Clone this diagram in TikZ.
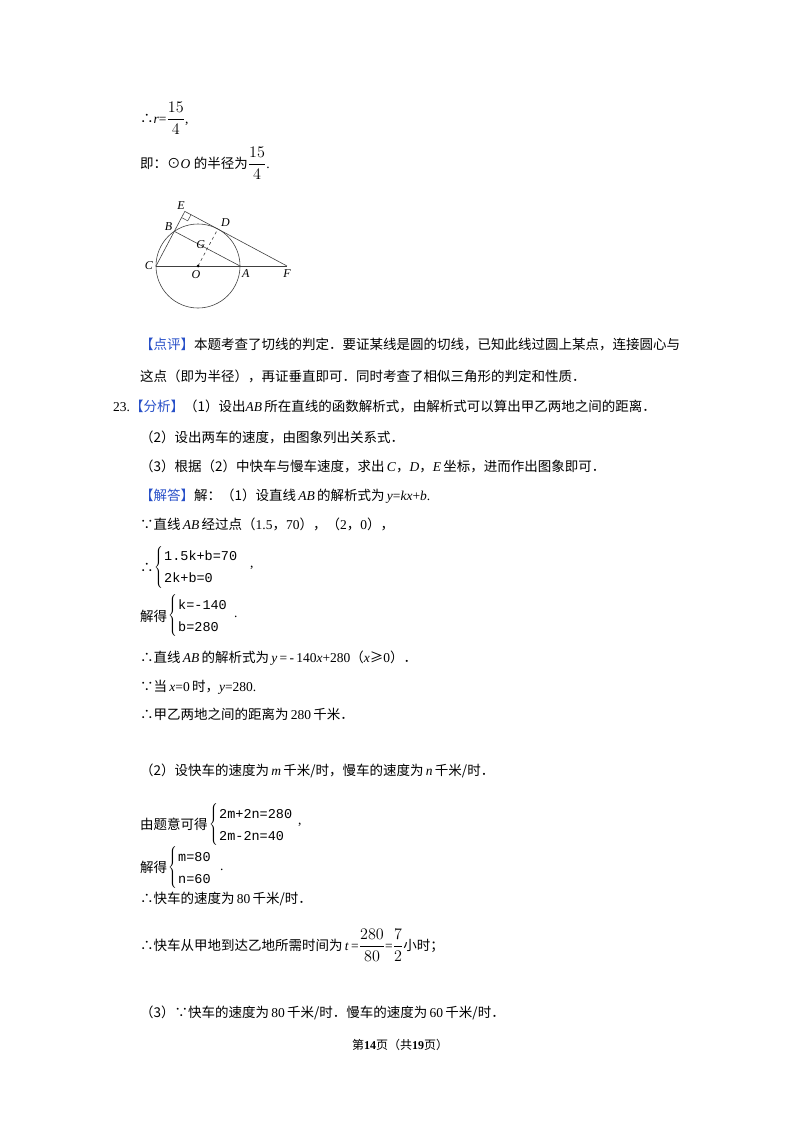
\documentclass[tikz,border=0pt]{standalone}
\usepackage{amsmath}
\usepackage{graphicx}
\usepackage{fontspec}
\setmainfont{Liberation Serif}
\newfontfamily\cjk{Noto Sans CJK SC}
\newfontfamily\eqf{Liberation Mono}
\usetikzlibrary{calc}
\definecolor{tagblue}{RGB}{40,80,200}
\begin{document}
\begin{tikzpicture}[x=1pt,y=-1pt,
  txt/.style={anchor=base west,inner sep=0pt,font=\fontsize{13.5}{16}\selectfont},
  eq/.style={anchor=base west,inner sep=0pt,font=\fontsize{13.5}{16}\eqf},
  brace/.style={anchor=west,inner sep=0pt},
  lbl/.style={font=\fontsize{12}{14}\selectfont\itshape,inner sep=1pt},
  fig/.style={line width=0.6pt,draw=black!75}]
\useasboundingbox (0,0) rectangle (800,1132);
\newcommand{\C}[1]{{\cjk #1}}
\newcommand{\tg}[1]{{\cjk\color{tagblue}【#1】}}
\newcommand{\fr}[2]{\scalebox{1.12}{$\dfrac{#1}{#2}$}}
\newcommand{\bigbrace}{$\left\{\rule{0pt}{18pt}\rule[-18pt]{0pt}{18pt}\right.$}
% top
\node[txt] (t1) at (140,123) {\C{∴}\textit{r}=\fr{15}{4},};
\node[txt] (t2) at (140,168) {\C{即：⊙}\textit{O} \C{的半径为}\fr{15}{4}.};
% figure
\coordinate (O) at (198,266);
\coordinate (C) at (156,266);
\coordinate (A) at (240,266);
\coordinate (F) at (287,266);
\coordinate (B) at ($(O)+(-23.7,-34.7)$);
\coordinate (D) at ($(O)+(19.8,-37)$);
\coordinate (E) at (intersection of C--B and F--D);
\coordinate (G) at (intersection of O--D and B--A);
\draw[fig] (O) circle (42);
\draw[fig] (C) -- (F);
\draw[fig] (C) -- (E) -- (F);
\draw[fig] (B) -- (A);
\draw[fig,dashed] (O) -- (D);
\fill (O) circle (1.5);
\coordinate (R1) at ($(E)!7pt!(B)$);
\coordinate (R2) at ($(E)!7pt!(D)$);
\draw[fig,line width=0.5pt] (R1) -- ($(R1)+(R2)-(E)$) -- (R2);
\node[lbl,anchor=south east] (lE) at ($(E)+(1,-1)$) {E};
\node[lbl,anchor=south east] (lB) at ($(B)+(-1,0)$) {B};
\node[lbl,anchor=south west] (lD) at ($(D)+(2,-1)$) {D};
\node[lbl,anchor=south east] (lG) at ($(G)+(-1,1)$) {G};
\node[lbl,anchor=east] (lC) at ($(C)+(-2,0)$) {C};
\node[lbl,anchor=north] (lO) at ($(O)+(-2,3)$) {O};
\node[lbl,anchor=north west] (lA) at ($(A)+(1,2)$) {A};
\node[lbl,anchor=north] (lF) at ($(F)+(0,2)$) {F};
% comments
\node[txt] (p1) at (140,349) {\tg{点评}\C{本题考查了切线的判定．要证某线是圆的切线，已知此线过圆上某点，连接圆心与}};
\node[txt] (p2) at (140,381) {\C{这点（即为半径），再证垂直即可．同时考查了相似三角形的判定和性质．}};
\node[txt] (a1) at (113,411) {23.\tg{分析}\C{（1）设出}\textit{AB}\,\C{所在直线的函数解析式，由解析式可以算出甲乙两地之间的距离．}};
\node[txt] (a2) at (140,442) {\C{（2）设出两车的速度，由图象列出关系式．}};
\node[txt] (a3) at (140,471) {\C{（3）根据（2）中快车与慢车速度，求出}\,\textit{C}\C{，}\textit{D}\C{，}\textit{E}\,\C{坐标，进而作出图象即可．}};
\node[txt] (s0) at (140,500) {\tg{解答}\C{解：（1）设直线}\,\textit{AB}\,\C{的解析式为}\,\textit{y}=\textit{kx}+\textit{b}.};
\node[txt] (s1) at (140,529) {\C{∵直线}\,\textit{AB}\,\C{经过点（}1.5\C{，}70\C{），（}2\C{，}0\C{），}};
\node[txt] (s2) at (140,572) {\C{∴}};
\node[brace] (s2br) at (154,567) {\bigbrace};
\node[eq] (s2a) at (164,560) {1.5k+b=70};
\node[eq] (s2b) at (164,582) {2k+b=0};
\node[txt] (s2c) at (250,567) {,};
\node[txt] (s3) at (140,621) {\C{解得}};
\node[brace] (s3br) at (168,615) {\bigbrace};
\node[eq] (s3a) at (178,609) {k=-140};
\node[eq] (s3b) at (178,631) {b=280};
\node[txt] (s3c) at (234,617) {.};
\node[txt] (s4) at (140,662) {\C{∴直线}\,\textit{AB}\,\C{的解析式为}\,\textit{y}\,=\,-\,140\textit{x}+280\C{（}\textit{x}\C{≥}0\C{）．}};
\node[txt] (s5) at (140,691) {\C{∵当}\,\textit{x}=0\,\C{时，}\textit{y}=280.};
\node[txt] (s6) at (140,719) {\C{∴甲乙两地之间的距离为}\,280\,\C{千米．}};
\node[txt] (b1) at (140,775) {\C{（2）设快车的速度为}\,\textit{m}\,\C{千米/时，慢车的速度为}\,\textit{n}\,\C{千米/时．}};
\node[txt] (b2) at (140,829) {\C{由题意可得}};
\node[brace] (b2br) at (209,824) {\bigbrace};
\node[eq] (b2a) at (219,818) {2m+2n=280};
\node[eq] (b2b) at (219,840) {2m-2n=40};
\node[txt] (b2c) at (298,824) {,};
\node[txt] (b3) at (140,872) {\C{解得}};
\node[brace] (b3br) at (168,867) {\bigbrace};
\node[eq] (b3a) at (178,861) {m=80};
\node[eq] (b3b) at (178,883) {n=60};
\node[txt] (b3c) at (220,870) {.};
\node[txt] (b4) at (140,903) {\C{∴快车的速度为}\,80\,\C{千米/时．}};
\node[txt] (b5) at (140,950) {\C{∴快车从甲地到达乙地所需时间为}\,\textit{t}\,=\fr{280}{80}=\fr{7}{2}\C{小时；}};
\node[txt] (c1) at (140,1017) {\C{（3）∵快车的速度为}\,80\,\C{千米/时．慢车的速度为}\,60\,\C{千米/时．}};
\node[anchor=base,inner sep=0pt,font=\fontsize{12}{14}\selectfont] (ft) at (400,1049) {\C{第}\textbf{14}\C{页（共}\textbf{19}\C{页）}};
\end{tikzpicture}
\end{document}
